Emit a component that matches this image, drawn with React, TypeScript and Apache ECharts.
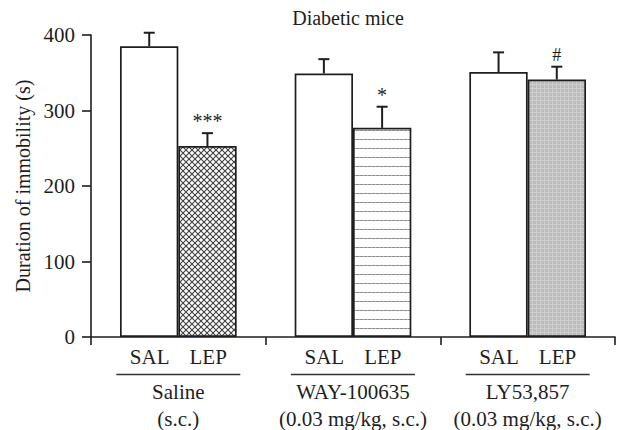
import React, { useEffect, useRef } from "react";
import * as echarts from "echarts";

const title = "Diabetic mice";
const yAxisName = "Duration of immobility (s)";
const groups = ["Saline", "WAY-100635", "LY53,857"];
const doses = ["(s.c.)", "(0.03 mg/kg, s.c.)", "(0.03 mg/kg, s.c.)"];
const treatments = ["SAL", "LEP"];
const salMeans = [385, 349, 351];
const salErr = [18, 19, 26];
const lepMeans = [253, 277, 341];
const lepErr = [17, 28, 17];
const lepMarks = ["***", "*", "#"];
const yTicks = { min: 0, max: 400, interval: 100 };

const FONT = "'Liberation Serif', 'DejaVu Serif', serif";
const INK = "#1e1e1e";

function makePattern(kind: string) {
  const c = document.createElement("canvas");
  const ctx = c.getContext("2d") as CanvasRenderingContext2D;
  if (kind === "cross") {
    c.width = 6; c.height = 6;
    ctx.fillStyle = "#ffffff"; ctx.fillRect(0, 0, 6, 6);
    ctx.strokeStyle = "#404040"; ctx.lineWidth = 1.1;
    ctx.beginPath();
    ctx.moveTo(-1, -1); ctx.lineTo(7, 7);
    ctx.moveTo(7, -1); ctx.lineTo(-1, 7);
    ctx.stroke();
  } else if (kind === "hlines") {
    c.width = 4; c.height = 9;
    ctx.fillStyle = "#ffffff"; ctx.fillRect(0, 0, 4, 9);
    ctx.fillStyle = "#8c8c8c"; ctx.fillRect(0, 4, 3, 1);
    ctx.fillStyle = "#b5b5b5"; ctx.fillRect(3, 4, 1, 1);
  } else {
    c.width = 4; c.height = 4;
    ctx.fillStyle = "#bcbcbc"; ctx.fillRect(0, 0, 4, 4);
    ctx.fillStyle = "#cdcdcd"; ctx.fillRect(0, 0, 4, 1); ctx.fillRect(0, 0, 1, 4);
  }
  return { image: c, repeat: "repeat", imageWidth: c.width, imageHeight: c.height } as any;
}

export default function App() {
  const ref = useRef<HTMLDivElement>(null);
  useEffect(() => {
    if (!ref.current) return;
    const chart = echarts.init(ref.current, null, { renderer: "svg" });
    const lepFills = [makePattern("cross"), makePattern("hlines"), makePattern("gray")];

    const errSeries = (means: number[], errs: number[], side: number, marks: string[] | null) => ({
      type: "custom",
      z: 5,
      data: means.map((m, i) => [i, m, errs[i]]),
      renderItem: (params: any, api: any) => {
        const i = api.value(0), m = api.value(1), e = api.value(2);
        const base = api.coord([i, m]);
        const top = api.coord([i, m + e]);
        const band = api.size([1, 0])[0];
        const x = base[0] + (side * band) / 6;
        const children: any[] = [
          { type: "line", shape: { x1: x, y1: base[1], x2: x, y2: top[1] }, style: { stroke: INK, lineWidth: 2 } },
          { type: "line", shape: { x1: x - 5.5, y1: top[1], x2: x + 5.5, y2: top[1] }, style: { stroke: INK, lineWidth: 2 } },
        ];
        if (marks && marks[params.dataIndex]) {
          children.push({
            type: "text",
            style: {
              text: marks[params.dataIndex], x, y: top[1] - 12,
              align: "center", verticalAlign: "middle",
              fontSize: marks[params.dataIndex] === "#" ? 18 : 20, fontFamily: FONT, fill: INK,
            },
          });
        }
        return { type: "group", children };
      },
    });

    chart.setOption({
      animation: false,
      title: {
        text: title, left: 343, top: 3, textAlign: "center",
        textStyle: { fontFamily: FONT, fontSize: 20, fontWeight: "normal", color: INK },
      },
      grid: { left: 91, right: 7, top: 35, bottom: 93 },
      xAxis: {
        type: "category",
        data: groups,
        axisLine: { lineStyle: { color: INK, width: 1.6 } },
        axisTick: { show: true, length: 8, lineStyle: { color: INK, width: 1.6 } },
        axisLabel: {
          interval: 0,
          margin: 9,
          formatter: (v: string, idx: number) =>
            `{t|${treatments[0]}}{g| }{t|${treatments[1]}}\n{u| }\n{n|${v}}\n{d|${doses[idx]}}`,
          rich: {
            t: { fontFamily: FONT, fontSize: 21, color: INK, lineHeight: 22, align: "center" },
            g: { width: 20, lineHeight: 22, fontSize: 20, align: "center" },
            u: { width: 124, height: 1.5, lineHeight: 13, backgroundColor: "#333", align: "center", fontSize: 2 },
            n: { fontFamily: FONT, fontSize: 21, color: INK, lineHeight: 22, align: "center" },
            d: { fontFamily: FONT, fontSize: 21, color: INK, lineHeight: 31, align: "center" },
          },
        },
      },
      yAxis: {
        type: "value",
        min: yTicks.min, max: yTicks.max, interval: yTicks.interval,
        name: yAxisName,
        nameLocation: "middle",
        nameGap: 56,
        nameTextStyle: { fontFamily: FONT, fontSize: 20, color: INK },
        axisLine: { show: true, lineStyle: { color: INK, width: 1.6 } },
        axisTick: { show: true, length: 9, lineStyle: { color: INK, width: 1.6 } },
        axisLabel: { fontFamily: FONT, fontSize: 21, color: INK, margin: 16 },
        splitLine: { show: false },
      },
      series: [
        {
          type: "bar", name: treatments[0], barWidth: "33.4%", barGap: "0%",
          data: salMeans.map((v) => ({ value: v })),
          itemStyle: { color: "#ffffff", borderColor: INK, borderWidth: 1.7 },
        },
        {
          type: "bar", name: treatments[1], barWidth: "33.4%", barGap: "0%",
          data: lepMeans.map((v, i) => ({ value: v, itemStyle: { color: lepFills[i] } })),
          itemStyle: { borderColor: INK, borderWidth: 1.7 },
        },
        errSeries(salMeans, salErr, -1, null),
        errSeries(lepMeans, lepErr, 1, lepMarks),
      ],
    } as any);
    return () => chart.dispose();
  }, []);
  return <div ref={ref} style={{ width: 622, height: 430, position: "absolute", left: 0, top: 0, background: "#fff" }} />;
}
